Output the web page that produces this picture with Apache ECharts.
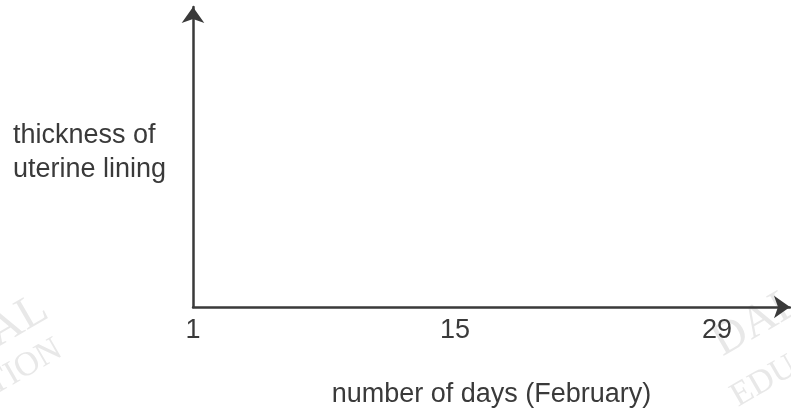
<!DOCTYPE html>
<html>
<head>
<meta charset="utf-8">
<script src="https://cdn.jsdelivr.net/npm/echarts@6/dist/echarts.min.js"></script>
<style>html,body{margin:0;padding:0;background:#fff;}#c{width:791px;height:413px;}</style>
</head>
<body>
<div id="c"></div>
<script>
var xTickLabels = [1, 15, 29];
var xRange = [1, 32.9];
var yRange = [0, 10];
var xTitle = 'number of days (February)';
var yTitle = 'thickness of\nuterine lining';
var watermarkTop = 'DALAL';
var watermarkBottom = 'EDUCATION';

var chart = echarts.init(document.getElementById('c'), null, {renderer: 'canvas'});
var ink = '#3a3a3a';
var wm = '#e8e8e8';
var font = 'Liberation Sans, Arial, sans-serif';
var serif = 'Liberation Serif, DejaVu Serif, serif';
var rot = Math.PI / 6;
chart.setOption({
  animation: false,
  backgroundColor: '#ffffff',
  grid: {left: 193, right: 1, top: 7, bottom: 106, containLabel: false, outerBoundsMode: 'none'},
  xAxis: {
    type: 'value', min: xRange[0], max: xRange[1],
    name: xTitle, nameLocation: 'middle', nameGap: 74, nameMoveOverlap: false,
    nameTextStyle: {color: ink, fontSize: 27, fontFamily: font},
    axisLine: {show: true, lineStyle: {color: ink, width: 2.5}, symbol: ['none', 'arrow'], symbolSize: [17, 16]},
    axisTick: {show: false},
    splitLine: {show: false},
    axisLabel: {show: true, customValues: xTickLabels, color: ink, fontSize: 27, fontFamily: font, margin: 10}
  },
  yAxis: {
    type: 'value', min: yRange[0], max: yRange[1],
    axisLine: {show: true, lineStyle: {color: ink, width: 2.5}, symbol: ['none', 'arrow'], symbolSize: [17, 16]},
    axisTick: {show: false},
    splitLine: {show: false},
    axisLabel: {show: false}
  },
  graphic: [
    {type: 'text', left: 13, top: 119, style: {text: yTitle, fill: ink, font: '27px ' + font, lineHeight: 34}},
    {type: 'text', x: 56, y: 326, rotation: rot, z: -1, style: {text: watermarkTop, fill: wm, font: '46px ' + serif, textAlign: 'right', textVerticalAlign: 'bottom'}},
    {type: 'text', x: 68, y: 362, rotation: rot, z: -1, style: {text: watermarkBottom, fill: wm, font: '34px ' + serif, textAlign: 'right', textVerticalAlign: 'bottom'}},
    {type: 'text', x: 728, y: 366, rotation: rot, z: -1, style: {text: watermarkTop, fill: wm, font: '46px ' + serif, textAlign: 'left', textVerticalAlign: 'bottom'}},
    {type: 'text', x: 742, y: 414, rotation: rot, z: -1, style: {text: watermarkBottom, fill: wm, font: '34px ' + serif, textAlign: 'left', textVerticalAlign: 'bottom'}}
  ],
  series: []
});
</script>
</body>
</html>
